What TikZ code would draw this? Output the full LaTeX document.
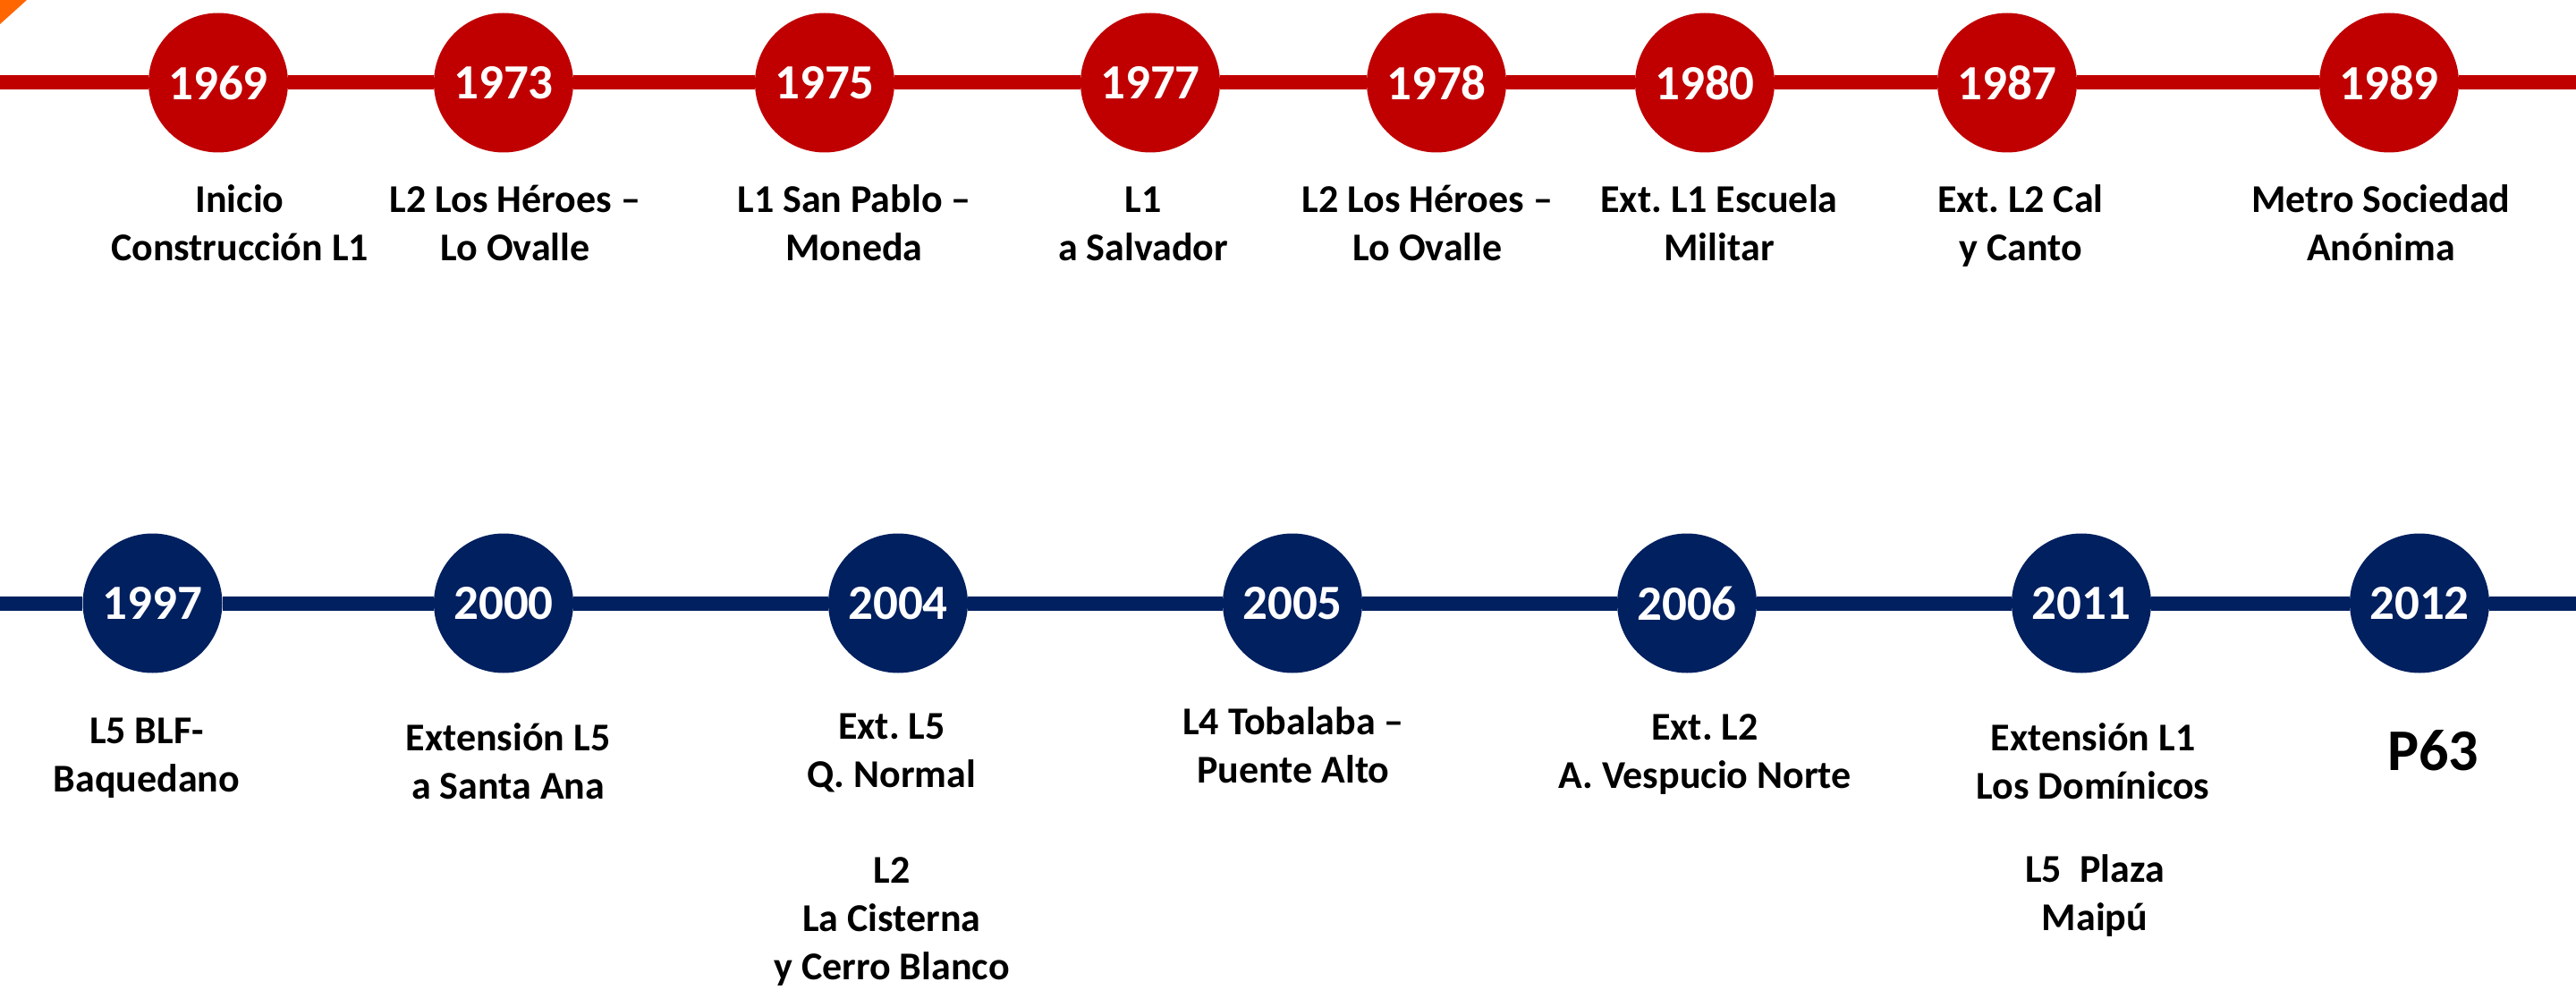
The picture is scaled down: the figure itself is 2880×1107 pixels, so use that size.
\documentclass[tikz,border=0pt]{standalone}
\usepackage{fontspec}
\setmainfont{Carlito}
\usetikzlibrary{backgrounds}
\definecolor{metrored}{HTML}{C00000}
\definecolor{metroblue}{HTML}{002060}
\definecolor{metroorange}{HTML}{FF6600}
\newcommand{\tlstrut}{\rule{0pt}{24pt}}
\frenchspacing
\begin{document}
\begin{tikzpicture}[x=0.5pt,y=-0.5pt,
  yearR/.style={circle, fill=metrored, text=white, minimum size=78pt, inner sep=0pt,
    font=\fontsize{27.5}{31}\selectfont\bfseries},
  yearB/.style={yearR, fill=metroblue},
  lbl/.style={anchor=north, inner sep=0pt, align=center, text=black,
    font=\fontsize{22}{27}\selectfont\bfseries},
  biglbl/.style={anchor=base, inner sep=0pt, text=black,
    font=\fontsize{33}{38}\selectfont\bfseries},
  lineR/.style={draw=metrored, line width=8pt},
  lineB/.style={draw=metroblue, line width=8pt}]
\useasboundingbox (0,0) rectangle (2880,1107);

% red (top) row
\node[yearR] (c1969) at (244,92.5) {1969};
\node[yearR] (c1973) at (563,92.5) {1973};
\node[yearR] (c1975) at (922,92.5) {1975};
\node[yearR] (c1977) at (1286,92.5) {1977};
\node[yearR] (c1978) at (1606,92.5) {1978};
\node[yearR] (c1980) at (1906,92.5) {1980};
\node[yearR] (c1987) at (2244,92.5) {1987};
\node[yearR] (c1989) at (2671,92.5) {1989};
\coordinate (rL) at (0,92.5);
\coordinate (rR) at (2880,92.5);

% blue (bottom) row
\node[yearB] (c1997) at (170.5,674.5) {1997};
\node[yearB] (c2000) at (563,674.5) {2000};
\node[yearB] (c2004) at (1004,674.5) {2004};
\node[yearB] (c2005) at (1445,674.5) {2005};
\node[yearB] (c2006) at (1886,674.5) {2006};
\node[yearB] (c2011) at (2327,674.5) {2011};
\node[yearB] (c2012) at (2705,674.5) {2012};
\coordinate (bL) at (0,674.5);
\coordinate (bR) at (2880,674.5);

% top labels
\node[lbl] (t1969) at (268,189) {\tlstrut Inicio\\Construcción L1};
\node[lbl] (t1973) at (576,189) {\tlstrut L2 Los Héroes –\\Lo Ovalle};
\node[lbl] (t1975) at (955,189) {\tlstrut L1 San Pablo –\\Moneda};
\node[lbl] (t1977) at (1278,189) {\tlstrut L1\\a Salvador};
\node[lbl] (t1978) at (1596,189) {\tlstrut L2 Los Héroes –\\Lo Ovalle};
\node[lbl] (t1980) at (1922,189) {\tlstrut Ext. L1 Escuela\\Militar};
\node[lbl] (t1987) at (2259,189) {\tlstrut Ext. L2 Cal\\y Canto};
\node[lbl] (t1989) at (2662,189) {\tlstrut Metro Sociedad\\Anónima};

% bottom labels
\node[lbl] (t1997) at (164,783) {\tlstrut L5 BLF-\\Baquedano};
\node[lbl] (t2000) at (568,791) {\tlstrut Extensión L5\\a Santa Ana};
\node[lbl] (t2004a) at (997,778) {\tlstrut Ext. L5\\Q. Normal};
\node[lbl] (t2004b) at (997,939) {\tlstrut L2\\La Cisterna\\y Cerro Blanco};
\node[lbl] (t2005) at (1446,773) {\tlstrut L4 Tobalaba –\\Puente Alto};
\node[lbl] (t2006) at (1906,779) {\tlstrut Ext. L2\\A. Vespucio Norte};
\node[lbl] (t2011a) at (2340,791) {\tlstrut Extensión L1\\Los Domínicos};
\node[lbl] (t2011b) at (2342,938) {\tlstrut L5\ \ Plaza\\Maipú};
\node[biglbl] (t2012) at (2720,861) {P63};

\begin{scope}[on background layer]
\fill[white] (0,0) rectangle (2880,1107);
\fill[metroorange] (0,0) -- (30,0) -- (0,27) -- cycle;
\draw[lineR] (rL) -- (c1969) -- (c1973) -- (c1975) -- (c1977) -- (c1978) -- (c1980) -- (c1987) -- (c1989) -- (rR);
\draw[lineB] (bL) -- (c1997) -- (c2000) -- (c2004) -- (c2005) -- (c2006) -- (c2011) -- (c2012) -- (bR);
\end{scope}
\end{tikzpicture}
\end{document}
